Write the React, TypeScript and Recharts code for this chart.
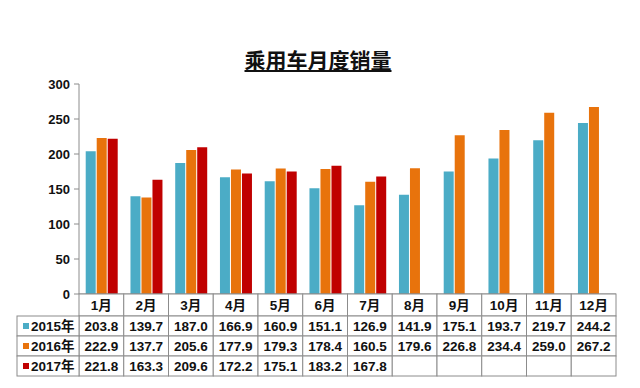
import { Bar, BarChart, XAxis, YAxis } from "recharts";

const months = ["1月", "2月", "3月", "4月", "5月", "6月", "7月", "8月", "9月", "10月", "11月", "12月"];
const sales2015 = [203.8, 139.7, 187.0, 166.9, 160.9, 151.1, 126.9, 141.9, 175.1, 193.7, 219.7, 244.2];
const sales2016 = [222.9, 137.7, 205.6, 177.9, 179.3, 178.4, 160.5, 179.6, 226.8, 234.4, 259.0, 267.2];
const sales2017 = [221.8, 163.3, 209.6, 172.2, 175.1, 183.2, 167.8, null, null, null, null, null];
const yTicks = [0, 50, 100, 150, 200, 250, 300];

const series = [
  { key: "y2015", name: "2015年", color: "#4bacc6", values: sales2015 },
  { key: "y2016", name: "2016年", color: "#e8730c", values: sales2016 },
  { key: "y2017", name: "2017年", color: "#c00000", values: sales2017 }
];

const data = months.map((month, i) => ({
  month,
  y2015: sales2015[i],
  y2016: sales2016[i],
  y2017: sales2017[i]
}));

const W = 640;
const H = 388;
const margin = { top: 84, right: 24, left: 29, bottom: 0 };
const yAxisWidth = 50;
const bandWidth = (W - margin.left - margin.right - yAxisWidth) / months.length;
const headerH = 22;
const rowH = 20;
const legendW = 62;
const gridColor = "#8c8c8c";
const font = "'Liberation Sans', Arial, 'Noto Sans CJK SC', sans-serif";

function TableTick(props: any) {
  const { x, y, payload, index } = props;
  const left = x - bandWidth / 2;
  const cells = [];
  cells.push(
    <g key="h">
      <rect x={left} y={y} width={bandWidth} height={headerH} fill="#fff" stroke={gridColor} />
      <text x={x} y={y + headerH / 2 + 5} textAnchor="middle" fontSize={13.5} fontWeight="bold" fill="#111">
        {payload.value}
      </text>
    </g>
  );
  series.forEach((s, r) => {
    const top = y + headerH + r * rowH;
    const v = s.values[index];
    cells.push(
      <g key={s.key}>
        <rect x={left} y={top} width={bandWidth} height={rowH} fill="#fff" stroke={gridColor} />
        {v != null && (
          <text x={x} y={top + rowH / 2 + 5} textAnchor="middle" fontSize={13.5} fontWeight="bold" fill="#111">
            {v.toFixed(1)}
          </text>
        )}
      </g>
    );
  });
  if (index === 0) {
    series.forEach((s, r) => {
      const top = y + headerH + r * rowH;
      cells.push(
        <g key={"l" + s.key}>
          <rect x={left - legendW} y={top} width={legendW} height={rowH} fill="#fff" stroke={gridColor} />
          <rect x={left - legendW + 6} y={top + rowH / 2 - 3} width={6} height={6} fill={s.color} />
          <text x={left - legendW + 14} y={top + rowH / 2 + 5} fontSize={13.5} fontWeight="bold" fill="#111">
            {s.name}
          </text>
        </g>
      );
    });
  }
  return <g fontFamily={font}>{cells}</g>;
}

export default function App() {
  return (
    <div style={{ position: "absolute", left: 0, top: 0, width: W, height: H, background: "#fff" }}>
      <div
        style={{
          position: "absolute",
          left: 0,
          width: W - 4,
          top: 45,
          textAlign: "center",
          fontFamily: "'Noto Sans CJK SC', sans-serif",
          fontWeight: "bold",
          fontSize: 21,
          color: "#111",
          textDecoration: "underline",
          lineHeight: "28px"
        }}
      >
        乘用车月度销量
      </div>
      <BarChart width={W} height={H} data={data} margin={margin} barCategoryGap="15%" barGap={1}>
        <XAxis
          dataKey="month"
          height={94}
          interval={0}
          tickLine={false}
          tickSize={0}
          tickMargin={0}
          axisLine={{ stroke: gridColor }}
          tick={<TableTick />}
        />
        <YAxis
          width={yAxisWidth}
          domain={[0, 300]}
          ticks={yTicks}
          axisLine={{ stroke: gridColor }}
          tickLine={{ stroke: gridColor }}
          tickSize={5}
          tickMargin={4}
          tick={{ fill: "#111", fontSize: 13, fontWeight: "bold", fontFamily: font }}
        />
        {series.map((s) => (
          <Bar key={s.key} dataKey={s.key} name={s.name} fill={s.color} isAnimationActive={false} />
        ))}
      </BarChart>
    </div>
  );
}
